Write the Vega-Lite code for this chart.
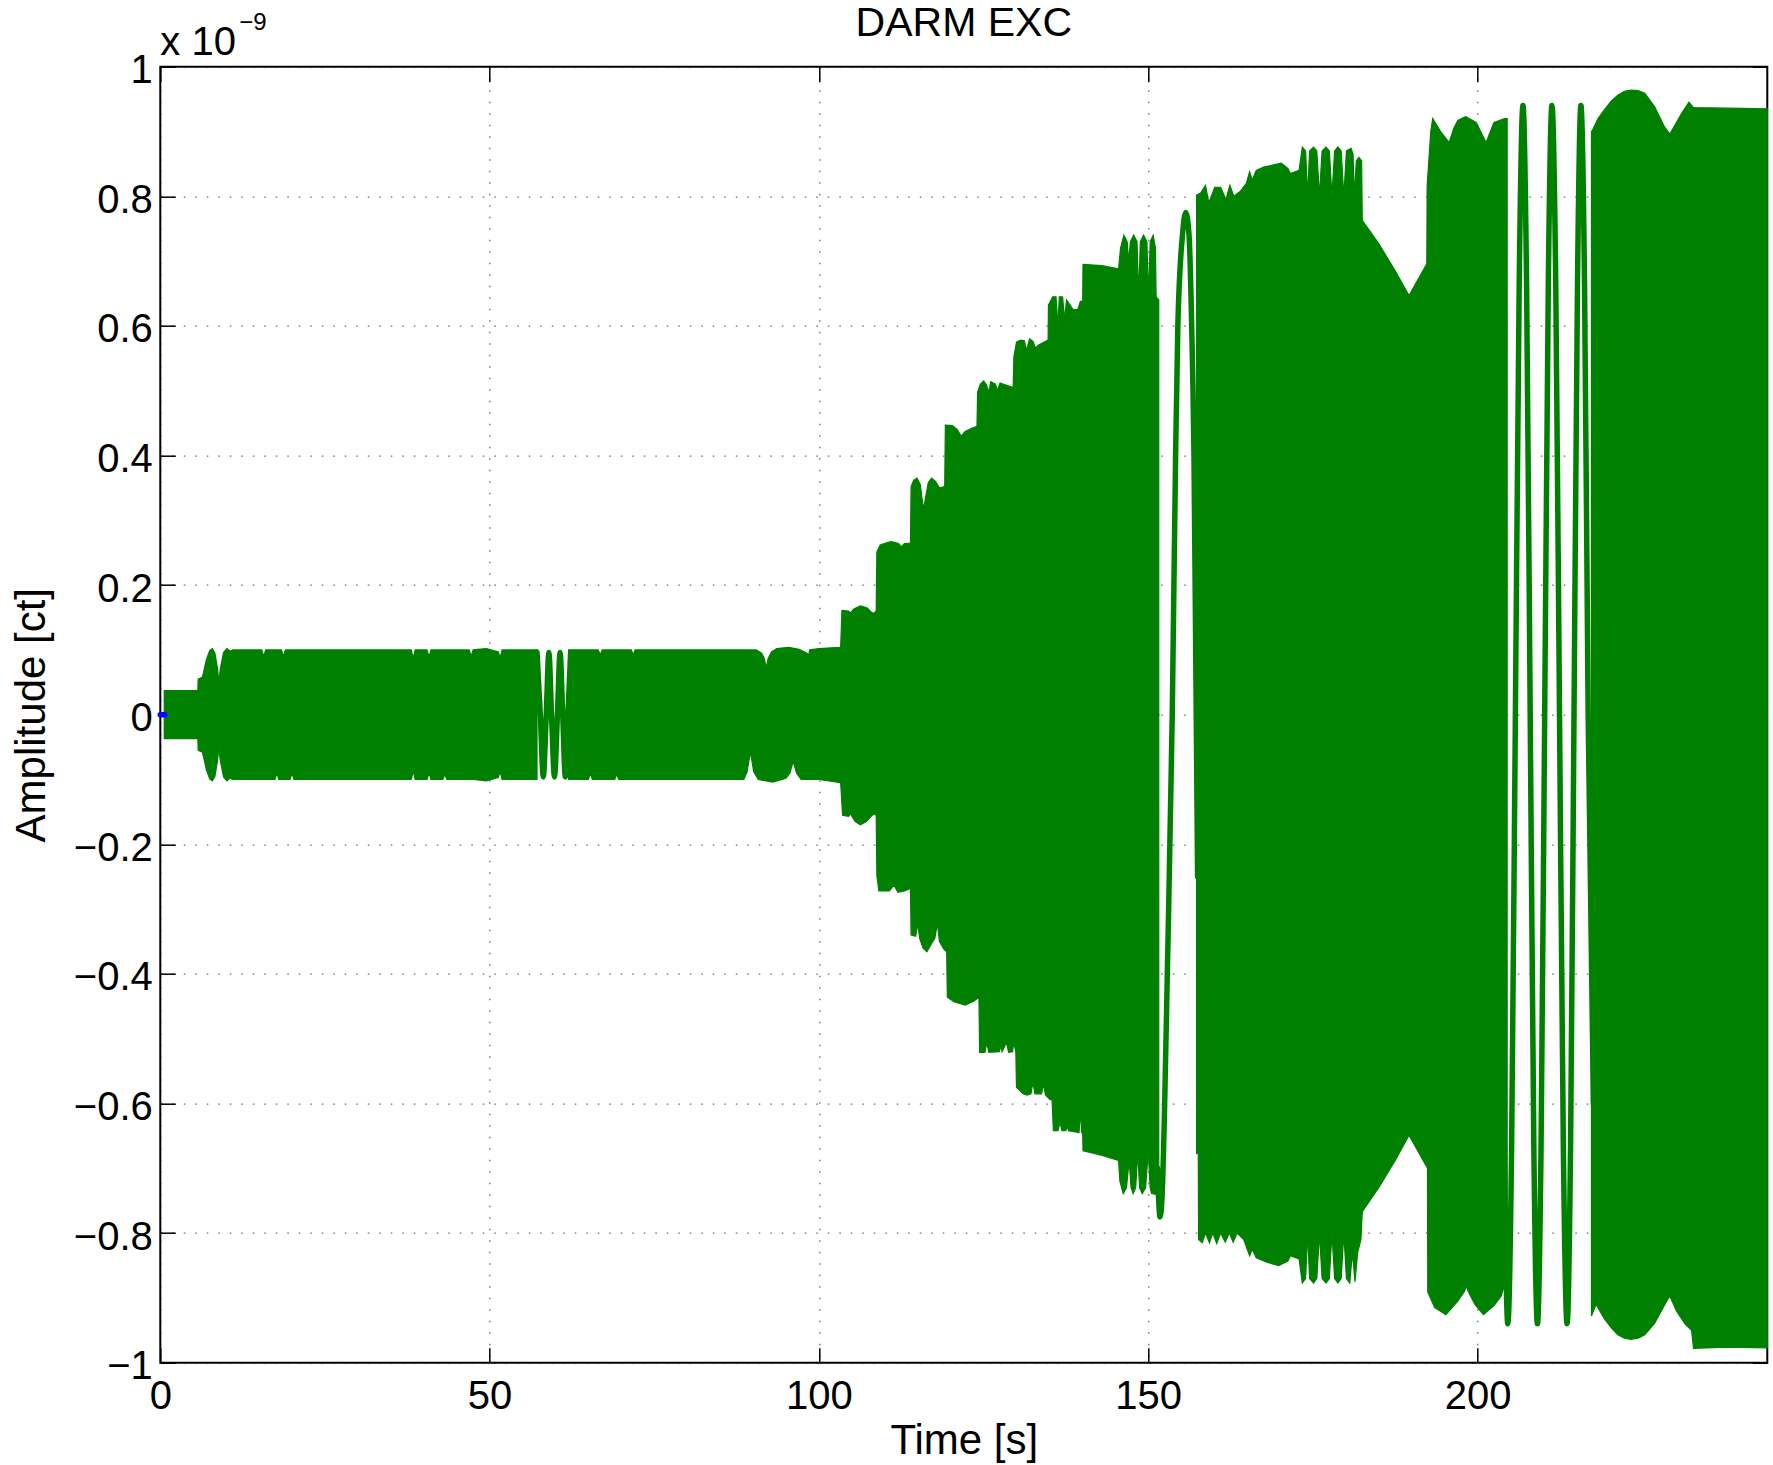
{
"$schema": "https://vega.github.io/schema/vega-lite/v6.json",
"autosize": {"type": "none"},
"width": 1607, "height": 1296,
"padding": {"left": 160.3, "top": 66.7, "right": 5.7, "bottom": 102.3},
"background": "white",
"config": {"view": {"stroke": "#000", "strokeWidth": 2}, "font": "Liberation Sans"},
"datasets": {
"env": [
{"seg":"A","edge":"hi","t":0.6,"v":0.037},{"seg":"A","edge":"hi","t":5.7,"v":0.037},{"seg":"A","edge":"hi","t":5.75,"v":0.055},{"seg":"A","edge":"hi","t":6.4,"v":0.058},{"seg":"A","edge":"hi","t":7.0,"v":0.085},{"seg":"A","edge":"hi","t":7.5,"v":0.099},{"seg":"A","edge":"hi","t":7.9,"v":0.102},{"seg":"A","edge":"hi","t":8.3,"v":0.095},{"seg":"A","edge":"hi","t":8.7,"v":0.07},{"seg":"A","edge":"hi","t":8.9,"v":0.05},{"seg":"A","edge":"hi","t":9.1,"v":0.07},{"seg":"A","edge":"hi","t":9.6,"v":0.096},{"seg":"A","edge":"hi","t":10.1,"v":0.102},{"seg":"A","edge":"hi","t":10.6,"v":0.098},{"seg":"A","edge":"hi","t":11.0,"v":0.1},{"seg":"A","edge":"hi","t":15.4,"v":0.1},{"seg":"A","edge":"hi","t":15.7,"v":0.09},{"seg":"A","edge":"hi","t":16.0,"v":0.1},{"seg":"A","edge":"hi","t":18.4,"v":0.1},{"seg":"A","edge":"hi","t":18.7,"v":0.09},{"seg":"A","edge":"hi","t":19.0,"v":0.1},{"seg":"A","edge":"hi","t":38.1,"v":0.1},{"seg":"A","edge":"hi","t":38.4,"v":0.087},{"seg":"A","edge":"hi","t":38.7,"v":0.1},{"seg":"A","edge":"hi","t":40.5,"v":0.1},{"seg":"A","edge":"hi","t":40.8,"v":0.089},{"seg":"A","edge":"hi","t":41.1,"v":0.1},{"seg":"A","edge":"hi","t":46.9,"v":0.1},{"seg":"A","edge":"hi","t":47.2,"v":0.09},{"seg":"A","edge":"hi","t":47.5,"v":0.1},{"seg":"A","edge":"hi","t":49.5,"v":0.102},{"seg":"A","edge":"hi","t":51.3,"v":0.097},{"seg":"A","edge":"hi","t":51.6,"v":0.088},{"seg":"A","edge":"hi","t":51.9,"v":0.1},{"seg":"A","edge":"hi","t":57.3,"v":0.1},
{"seg":"A","edge":"lo","t":0.6,"v":-0.037},{"seg":"A","edge":"lo","t":5.7,"v":-0.037},{"seg":"A","edge":"lo","t":5.75,"v":-0.055},{"seg":"A","edge":"lo","t":6.4,"v":-0.058},{"seg":"A","edge":"lo","t":7.0,"v":-0.085},{"seg":"A","edge":"lo","t":7.5,"v":-0.099},{"seg":"A","edge":"lo","t":7.9,"v":-0.102},{"seg":"A","edge":"lo","t":8.3,"v":-0.095},{"seg":"A","edge":"lo","t":8.7,"v":-0.07},{"seg":"A","edge":"lo","t":8.9,"v":-0.05},{"seg":"A","edge":"lo","t":9.1,"v":-0.07},{"seg":"A","edge":"lo","t":9.6,"v":-0.096},{"seg":"A","edge":"lo","t":10.1,"v":-0.102},{"seg":"A","edge":"lo","t":10.6,"v":-0.098},{"seg":"A","edge":"lo","t":11.0,"v":-0.1},{"seg":"A","edge":"lo","t":17.4,"v":-0.1},{"seg":"A","edge":"lo","t":17.7,"v":-0.09},{"seg":"A","edge":"lo","t":18.0,"v":-0.1},{"seg":"A","edge":"lo","t":19.7,"v":-0.1},{"seg":"A","edge":"lo","t":20.0,"v":-0.09},{"seg":"A","edge":"lo","t":20.3,"v":-0.1},{"seg":"A","edge":"lo","t":38.1,"v":-0.1},{"seg":"A","edge":"lo","t":38.4,"v":-0.087},{"seg":"A","edge":"lo","t":38.7,"v":-0.1},{"seg":"A","edge":"lo","t":40.5,"v":-0.1},{"seg":"A","edge":"lo","t":40.8,"v":-0.09},{"seg":"A","edge":"lo","t":41.1,"v":-0.1},{"seg":"A","edge":"lo","t":42.9,"v":-0.1},{"seg":"A","edge":"lo","t":43.2,"v":-0.092},{"seg":"A","edge":"lo","t":43.5,"v":-0.1},{"seg":"A","edge":"lo","t":47.5,"v":-0.1},{"seg":"A","edge":"lo","t":49.5,"v":-0.102},{"seg":"A","edge":"lo","t":51.3,"v":-0.097},{"seg":"A","edge":"lo","t":51.6,"v":-0.088},{"seg":"A","edge":"lo","t":51.9,"v":-0.1},{"seg":"A","edge":"lo","t":57.2,"v":-0.1},
{"seg":"B","edge":"hi","t":62.0,"v":0.1},{"seg":"B","edge":"hi","t":66.5,"v":0.1},{"seg":"B","edge":"hi","t":66.8,"v":0.092},{"seg":"B","edge":"hi","t":67.1,"v":0.1},{"seg":"B","edge":"hi","t":71.5,"v":0.1},{"seg":"B","edge":"hi","t":71.8,"v":0.093},{"seg":"B","edge":"hi","t":72.1,"v":0.1},{"seg":"B","edge":"hi","t":90.5,"v":0.1},{"seg":"B","edge":"hi","t":91.3,"v":0.095},{"seg":"B","edge":"hi","t":91.7,"v":0.087},{"seg":"B","edge":"hi","t":92.0,"v":0.072},{"seg":"B","edge":"hi","t":92.3,"v":0.087},{"seg":"B","edge":"hi","t":92.8,"v":0.097},{"seg":"B","edge":"hi","t":93.6,"v":0.102},{"seg":"B","edge":"hi","t":95.4,"v":0.104},{"seg":"B","edge":"hi","t":97.0,"v":0.101},{"seg":"B","edge":"hi","t":98.2,"v":0.095},{"seg":"B","edge":"hi","t":98.4,"v":0.09},{"seg":"B","edge":"hi","t":98.6,"v":0.1},{"seg":"B","edge":"hi","t":100.0,"v":0.102},{"seg":"B","edge":"hi","t":103.3,"v":0.104},{"seg":"B","edge":"hi","t":103.5,"v":0.161},{"seg":"B","edge":"hi","t":104.5,"v":0.16},{"seg":"B","edge":"hi","t":104.8,"v":0.157},{"seg":"B","edge":"hi","t":105.3,"v":0.163},{"seg":"B","edge":"hi","t":106.3,"v":0.168},{"seg":"B","edge":"hi","t":107.3,"v":0.165},{"seg":"B","edge":"hi","t":108.0,"v":0.158},{"seg":"B","edge":"hi","t":108.3,"v":0.156},{"seg":"B","edge":"hi","t":108.7,"v":0.16},{"seg":"B","edge":"hi","t":108.8,"v":0.251},{"seg":"B","edge":"hi","t":109.3,"v":0.262},{"seg":"B","edge":"hi","t":110.5,"v":0.266},{"seg":"B","edge":"hi","t":111.0,"v":0.267},{"seg":"B","edge":"hi","t":112.1,"v":0.264},{"seg":"B","edge":"hi","t":112.5,"v":0.259},{"seg":"B","edge":"hi","t":113.0,"v":0.264},{"seg":"B","edge":"hi","t":113.9,"v":0.265},{"seg":"B","edge":"hi","t":114.0,"v":0.352},{"seg":"B","edge":"hi","t":114.4,"v":0.362},{"seg":"B","edge":"hi","t":114.9,"v":0.365},{"seg":"B","edge":"hi","t":115.4,"v":0.355},{"seg":"B","edge":"hi","t":115.7,"v":0.33},{"seg":"B","edge":"hi","t":115.9,"v":0.318},{"seg":"B","edge":"hi","t":116.2,"v":0.335},{"seg":"B","edge":"hi","t":116.6,"v":0.358},{"seg":"B","edge":"hi","t":117.1,"v":0.365},{"seg":"B","edge":"hi","t":117.7,"v":0.36},{"seg":"B","edge":"hi","t":118.3,"v":0.35},{"seg":"B","edge":"hi","t":119.1,"v":0.352},{"seg":"B","edge":"hi","t":119.2,"v":0.447},{"seg":"B","edge":"hi","t":120.3,"v":0.446},{"seg":"B","edge":"hi","t":121.0,"v":0.44},{"seg":"B","edge":"hi","t":121.6,"v":0.43},{"seg":"B","edge":"hi","t":122.2,"v":0.437},{"seg":"B","edge":"hi","t":123.2,"v":0.442},{"seg":"B","edge":"hi","t":124.0,"v":0.445},{"seg":"B","edge":"hi","t":124.1,"v":0.498},{"seg":"B","edge":"hi","t":124.5,"v":0.51},{"seg":"B","edge":"hi","t":125.0,"v":0.515},{"seg":"B","edge":"hi","t":125.4,"v":0.51},{"seg":"B","edge":"hi","t":125.8,"v":0.498},{"seg":"B","edge":"hi","t":126.1,"v":0.514},{"seg":"B","edge":"hi","t":126.8,"v":0.51},{"seg":"B","edge":"hi","t":127.1,"v":0.5},{"seg":"B","edge":"hi","t":127.5,"v":0.512},{"seg":"B","edge":"hi","t":129.5,"v":0.505},{"seg":"B","edge":"hi","t":129.6,"v":0.552},{"seg":"B","edge":"hi","t":130.0,"v":0.575},{"seg":"B","edge":"hi","t":130.6,"v":0.578},{"seg":"B","edge":"hi","t":131.2,"v":0.577},{"seg":"B","edge":"hi","t":131.5,"v":0.562},{"seg":"B","edge":"hi","t":132.0,"v":0.58},{"seg":"B","edge":"hi","t":132.5,"v":0.576},{"seg":"B","edge":"hi","t":132.9,"v":0.566},{"seg":"B","edge":"hi","t":133.3,"v":0.57},{"seg":"B","edge":"hi","t":134.0,"v":0.574},{"seg":"B","edge":"hi","t":134.8,"v":0.578},{"seg":"B","edge":"hi","t":134.85,"v":0.632},{"seg":"B","edge":"hi","t":135.5,"v":0.645},{"seg":"B","edge":"hi","t":136.0,"v":0.645},{"seg":"B","edge":"hi","t":136.3,"v":0.6},{"seg":"B","edge":"hi","t":136.5,"v":0.645},{"seg":"B","edge":"hi","t":137.0,"v":0.645},{"seg":"B","edge":"hi","t":137.3,"v":0.61},{"seg":"B","edge":"hi","t":137.6,"v":0.64},{"seg":"B","edge":"hi","t":138.6,"v":0.625},{"seg":"B","edge":"hi","t":139.3,"v":0.625},{"seg":"B","edge":"hi","t":139.7,"v":0.638},{"seg":"B","edge":"hi","t":140.05,"v":0.638},{"seg":"B","edge":"hi","t":140.1,"v":0.695},{"seg":"B","edge":"hi","t":143.0,"v":0.693},{"seg":"B","edge":"hi","t":145.5,"v":0.688},{"seg":"B","edge":"hi","t":145.8,"v":0.72},{"seg":"B","edge":"hi","t":146.3,"v":0.74},{"seg":"B","edge":"hi","t":146.8,"v":0.73},{"seg":"B","edge":"hi","t":147.05,"v":0.7},{"seg":"B","edge":"hi","t":147.3,"v":0.73},{"seg":"B","edge":"hi","t":147.8,"v":0.74},{"seg":"B","edge":"hi","t":148.3,"v":0.73},{"seg":"B","edge":"hi","t":148.55,"v":0.645},{"seg":"B","edge":"hi","t":148.8,"v":0.73},{"seg":"B","edge":"hi","t":149.3,"v":0.74},{"seg":"B","edge":"hi","t":149.8,"v":0.73},{"seg":"B","edge":"hi","t":150.05,"v":0.645},{"seg":"B","edge":"hi","t":150.3,"v":0.73},{"seg":"B","edge":"hi","t":150.75,"v":0.74},{"seg":"B","edge":"hi","t":151.1,"v":0.72},{"seg":"B","edge":"hi","t":151.2,"v":0.645},{"seg":"B","edge":"hi","t":151.6,"v":0.64},
{"seg":"B","edge":"lo","t":62.0,"v":-0.1},{"seg":"B","edge":"lo","t":65.0,"v":-0.1},{"seg":"B","edge":"lo","t":65.3,"v":-0.09},{"seg":"B","edge":"lo","t":65.6,"v":-0.1},{"seg":"B","edge":"lo","t":69.0,"v":-0.1},{"seg":"B","edge":"lo","t":69.3,"v":-0.092},{"seg":"B","edge":"lo","t":69.6,"v":-0.1},{"seg":"B","edge":"lo","t":88.6,"v":-0.1},{"seg":"B","edge":"lo","t":89.1,"v":-0.088},{"seg":"B","edge":"lo","t":89.6,"v":-0.057},{"seg":"B","edge":"lo","t":90.1,"v":-0.088},{"seg":"B","edge":"lo","t":90.8,"v":-0.1},{"seg":"B","edge":"lo","t":93.0,"v":-0.104},{"seg":"B","edge":"lo","t":95.0,"v":-0.098},{"seg":"B","edge":"lo","t":95.6,"v":-0.09},{"seg":"B","edge":"lo","t":96.1,"v":-0.072},{"seg":"B","edge":"lo","t":96.6,"v":-0.09},{"seg":"B","edge":"lo","t":97.3,"v":-0.1},{"seg":"B","edge":"lo","t":100.0,"v":-0.1},{"seg":"B","edge":"lo","t":103.3,"v":-0.105},{"seg":"B","edge":"lo","t":103.6,"v":-0.155},{"seg":"B","edge":"lo","t":104.5,"v":-0.157},{"seg":"B","edge":"lo","t":104.8,"v":-0.153},{"seg":"B","edge":"lo","t":105.5,"v":-0.165},{"seg":"B","edge":"lo","t":106.3,"v":-0.17},{"seg":"B","edge":"lo","t":107.2,"v":-0.165},{"seg":"B","edge":"lo","t":108.1,"v":-0.155},{"seg":"B","edge":"lo","t":108.5,"v":-0.153},{"seg":"B","edge":"lo","t":108.7,"v":-0.156},{"seg":"B","edge":"lo","t":108.8,"v":-0.248},{"seg":"B","edge":"lo","t":109.1,"v":-0.272},{"seg":"B","edge":"lo","t":110.7,"v":-0.272},{"seg":"B","edge":"lo","t":111.4,"v":-0.263},{"seg":"B","edge":"lo","t":112.0,"v":-0.274},{"seg":"B","edge":"lo","t":113.0,"v":-0.272},{"seg":"B","edge":"lo","t":113.9,"v":-0.268},{"seg":"B","edge":"lo","t":114.0,"v":-0.34},{"seg":"B","edge":"lo","t":114.7,"v":-0.342},{"seg":"B","edge":"lo","t":115.0,"v":-0.322},{"seg":"B","edge":"lo","t":115.3,"v":-0.345},{"seg":"B","edge":"lo","t":115.8,"v":-0.36},{"seg":"B","edge":"lo","t":116.4,"v":-0.366},{"seg":"B","edge":"lo","t":117.0,"v":-0.355},{"seg":"B","edge":"lo","t":117.6,"v":-0.345},{"seg":"B","edge":"lo","t":118.0,"v":-0.322},{"seg":"B","edge":"lo","t":118.3,"v":-0.35},{"seg":"B","edge":"lo","t":119.0,"v":-0.362},{"seg":"B","edge":"lo","t":119.4,"v":-0.366},{"seg":"B","edge":"lo","t":119.5,"v":-0.436},{"seg":"B","edge":"lo","t":120.5,"v":-0.443},{"seg":"B","edge":"lo","t":122.2,"v":-0.448},{"seg":"B","edge":"lo","t":123.5,"v":-0.442},{"seg":"B","edge":"lo","t":124.3,"v":-0.436},{"seg":"B","edge":"lo","t":124.4,"v":-0.521},{"seg":"B","edge":"lo","t":125.2,"v":-0.521},{"seg":"B","edge":"lo","t":125.5,"v":-0.506},{"seg":"B","edge":"lo","t":125.8,"v":-0.521},{"seg":"B","edge":"lo","t":127.4,"v":-0.52},{"seg":"B","edge":"lo","t":127.6,"v":-0.51},{"seg":"B","edge":"lo","t":127.8,"v":-0.52},{"seg":"B","edge":"lo","t":128.5,"v":-0.506},{"seg":"B","edge":"lo","t":128.8,"v":-0.521},{"seg":"B","edge":"lo","t":129.4,"v":-0.52},{"seg":"B","edge":"lo","t":129.6,"v":-0.506},{"seg":"B","edge":"lo","t":129.9,"v":-0.52},{"seg":"B","edge":"lo","t":130.0,"v":-0.575},{"seg":"B","edge":"lo","t":131.0,"v":-0.585},{"seg":"B","edge":"lo","t":131.6,"v":-0.587},{"seg":"B","edge":"lo","t":132.2,"v":-0.585},{"seg":"B","edge":"lo","t":132.5,"v":-0.567},{"seg":"B","edge":"lo","t":132.8,"v":-0.585},{"seg":"B","edge":"lo","t":133.8,"v":-0.585},{"seg":"B","edge":"lo","t":134.1,"v":-0.57},{"seg":"B","edge":"lo","t":134.4,"v":-0.587},{"seg":"B","edge":"lo","t":135.1,"v":-0.594},{"seg":"B","edge":"lo","t":135.4,"v":-0.594},{"seg":"B","edge":"lo","t":135.6,"v":-0.642},{"seg":"B","edge":"lo","t":136.3,"v":-0.642},{"seg":"B","edge":"lo","t":136.6,"v":-0.629},{"seg":"B","edge":"lo","t":136.9,"v":-0.642},{"seg":"B","edge":"lo","t":137.5,"v":-0.642},{"seg":"B","edge":"lo","t":137.7,"v":-0.635},{"seg":"B","edge":"lo","t":137.9,"v":-0.642},{"seg":"B","edge":"lo","t":139.5,"v":-0.645},{"seg":"B","edge":"lo","t":139.7,"v":-0.61},{"seg":"B","edge":"lo","t":139.9,"v":-0.645},{"seg":"B","edge":"lo","t":140.05,"v":-0.645},{"seg":"B","edge":"lo","t":140.1,"v":-0.673},{"seg":"B","edge":"lo","t":143.0,"v":-0.68},{"seg":"B","edge":"lo","t":145.5,"v":-0.688},{"seg":"B","edge":"lo","t":145.7,"v":-0.72},{"seg":"B","edge":"lo","t":146.2,"v":-0.739},{"seg":"B","edge":"lo","t":146.7,"v":-0.73},{"seg":"B","edge":"lo","t":147.1,"v":-0.688},{"seg":"B","edge":"lo","t":147.4,"v":-0.73},{"seg":"B","edge":"lo","t":147.7,"v":-0.739},{"seg":"B","edge":"lo","t":148.1,"v":-0.73},{"seg":"B","edge":"lo","t":148.4,"v":-0.675},{"seg":"B","edge":"lo","t":148.7,"v":-0.73},{"seg":"B","edge":"lo","t":149.1,"v":-0.739},{"seg":"B","edge":"lo","t":149.6,"v":-0.73},{"seg":"B","edge":"lo","t":150.0,"v":-0.675},{"seg":"B","edge":"lo","t":150.3,"v":-0.73},{"seg":"B","edge":"lo","t":150.5,"v":-0.739},{"seg":"B","edge":"lo","t":151.0,"v":-0.74},{"seg":"B","edge":"lo","t":151.6,"v":-0.74},
{"seg":"C","edge":"hi","t":157.35,"v":0.802},{"seg":"C","edge":"hi","t":157.96,"v":0.805},{"seg":"C","edge":"hi","t":158.7,"v":0.817},{"seg":"C","edge":"hi","t":159.2,"v":0.79},{"seg":"C","edge":"hi","t":160.1,"v":0.814},{"seg":"C","edge":"hi","t":161.0,"v":0.814},{"seg":"C","edge":"hi","t":161.8,"v":0.795},{"seg":"C","edge":"hi","t":162.4,"v":0.817},{"seg":"C","edge":"hi","t":163.0,"v":0.8},{"seg":"C","edge":"hi","t":164.0,"v":0.808},{"seg":"C","edge":"hi","t":164.9,"v":0.82},{"seg":"C","edge":"hi","t":165.4,"v":0.838},{"seg":"C","edge":"hi","t":165.8,"v":0.825},{"seg":"C","edge":"hi","t":166.4,"v":0.84},{"seg":"C","edge":"hi","t":167.5,"v":0.845},{"seg":"C","edge":"hi","t":170.2,"v":0.851},{"seg":"C","edge":"hi","t":171.2,"v":0.843},{"seg":"C","edge":"hi","t":171.6,"v":0.835},{"seg":"C","edge":"hi","t":172.9,"v":0.84},{"seg":"C","edge":"hi","t":173.4,"v":0.876},{"seg":"C","edge":"hi","t":173.9,"v":0.87},{"seg":"C","edge":"hi","t":174.2,"v":0.8},{"seg":"C","edge":"hi","t":174.5,"v":0.87},{"seg":"C","edge":"hi","t":175.1,"v":0.876},{"seg":"C","edge":"hi","t":175.6,"v":0.87},{"seg":"C","edge":"hi","t":176.0,"v":0.8},{"seg":"C","edge":"hi","t":176.4,"v":0.87},{"seg":"C","edge":"hi","t":177.0,"v":0.876},{"seg":"C","edge":"hi","t":177.5,"v":0.87},{"seg":"C","edge":"hi","t":177.9,"v":0.8},{"seg":"C","edge":"hi","t":178.3,"v":0.87},{"seg":"C","edge":"hi","t":178.8,"v":0.876},{"seg":"C","edge":"hi","t":179.3,"v":0.87},{"seg":"C","edge":"hi","t":179.7,"v":0.8},{"seg":"C","edge":"hi","t":180.1,"v":0.87},{"seg":"C","edge":"hi","t":180.8,"v":0.874},{"seg":"C","edge":"hi","t":181.1,"v":0.865},{"seg":"C","edge":"hi","t":181.3,"v":0.8},{"seg":"C","edge":"hi","t":181.6,"v":0.855},{"seg":"C","edge":"hi","t":182.0,"v":0.86},{"seg":"C","edge":"hi","t":182.4,"v":0.855},{"seg":"C","edge":"hi","t":182.5,"v":0.763},{"seg":"C","edge":"hi","t":185.0,"v":0.727},{"seg":"C","edge":"hi","t":187.5,"v":0.685},{"seg":"C","edge":"hi","t":189.6,"v":0.647},{"seg":"C","edge":"hi","t":192.3,"v":0.696},{"seg":"C","edge":"hi","t":192.35,"v":0.816},{"seg":"C","edge":"hi","t":192.9,"v":0.9},{"seg":"C","edge":"hi","t":193.2,"v":0.92},{"seg":"C","edge":"hi","t":193.8,"v":0.91},{"seg":"C","edge":"hi","t":194.4,"v":0.9},{"seg":"C","edge":"hi","t":195.7,"v":0.883},{"seg":"C","edge":"hi","t":196.4,"v":0.905},{"seg":"C","edge":"hi","t":197.0,"v":0.917},{"seg":"C","edge":"hi","t":198.2,"v":0.923},{"seg":"C","edge":"hi","t":199.8,"v":0.914},{"seg":"C","edge":"hi","t":201.3,"v":0.883},{"seg":"C","edge":"hi","t":202.5,"v":0.914},{"seg":"C","edge":"hi","t":204.1,"v":0.92},{"seg":"C","edge":"hi","t":204.5,"v":0.92},
{"seg":"C","edge":"lo","t":157.35,"v":-0.677},{"seg":"C","edge":"lo","t":157.6,"v":-0.677},{"seg":"C","edge":"lo","t":157.65,"v":-0.81},{"seg":"C","edge":"lo","t":158.2,"v":-0.815},{"seg":"C","edge":"lo","t":158.7,"v":-0.8},{"seg":"C","edge":"lo","t":159.3,"v":-0.815},{"seg":"C","edge":"lo","t":159.8,"v":-0.8},{"seg":"C","edge":"lo","t":160.4,"v":-0.816},{"seg":"C","edge":"lo","t":161.0,"v":-0.8},{"seg":"C","edge":"lo","t":161.7,"v":-0.814},{"seg":"C","edge":"lo","t":162.3,"v":-0.8},{"seg":"C","edge":"lo","t":162.9,"v":-0.814},{"seg":"C","edge":"lo","t":163.5,"v":-0.8},{"seg":"C","edge":"lo","t":164.5,"v":-0.81},{"seg":"C","edge":"lo","t":165.4,"v":-0.835},{"seg":"C","edge":"lo","t":165.8,"v":-0.825},{"seg":"C","edge":"lo","t":166.4,"v":-0.838},{"seg":"C","edge":"lo","t":168.0,"v":-0.845},{"seg":"C","edge":"lo","t":169.8,"v":-0.85},{"seg":"C","edge":"lo","t":171.2,"v":-0.843},{"seg":"C","edge":"lo","t":171.6,"v":-0.835},{"seg":"C","edge":"lo","t":172.9,"v":-0.84},{"seg":"C","edge":"lo","t":173.4,"v":-0.877},{"seg":"C","edge":"lo","t":173.9,"v":-0.87},{"seg":"C","edge":"lo","t":174.2,"v":-0.8},{"seg":"C","edge":"lo","t":174.5,"v":-0.87},{"seg":"C","edge":"lo","t":175.1,"v":-0.877},{"seg":"C","edge":"lo","t":175.6,"v":-0.87},{"seg":"C","edge":"lo","t":176.0,"v":-0.8},{"seg":"C","edge":"lo","t":176.4,"v":-0.87},{"seg":"C","edge":"lo","t":177.0,"v":-0.877},{"seg":"C","edge":"lo","t":177.5,"v":-0.87},{"seg":"C","edge":"lo","t":177.9,"v":-0.8},{"seg":"C","edge":"lo","t":178.3,"v":-0.87},{"seg":"C","edge":"lo","t":178.8,"v":-0.877},{"seg":"C","edge":"lo","t":179.3,"v":-0.87},{"seg":"C","edge":"lo","t":179.7,"v":-0.8},{"seg":"C","edge":"lo","t":180.1,"v":-0.87},{"seg":"C","edge":"lo","t":180.6,"v":-0.877},{"seg":"C","edge":"lo","t":180.9,"v":-0.842},{"seg":"C","edge":"lo","t":181.1,"v":-0.84},{"seg":"C","edge":"lo","t":181.4,"v":-0.875},{"seg":"C","edge":"lo","t":181.8,"v":-0.83},{"seg":"C","edge":"lo","t":182.3,"v":-0.81},{"seg":"C","edge":"lo","t":182.5,"v":-0.767},{"seg":"C","edge":"lo","t":185.0,"v":-0.73},{"seg":"C","edge":"lo","t":187.5,"v":-0.688},{"seg":"C","edge":"lo","t":189.6,"v":-0.649},{"seg":"C","edge":"lo","t":192.4,"v":-0.7},{"seg":"C","edge":"lo","t":192.45,"v":-0.891},{"seg":"C","edge":"lo","t":193.5,"v":-0.915},{"seg":"C","edge":"lo","t":195.2,"v":-0.926},{"seg":"C","edge":"lo","t":197.0,"v":-0.905},{"seg":"C","edge":"lo","t":198.0,"v":-0.89},{"seg":"C","edge":"lo","t":198.3,"v":-0.882},{"seg":"C","edge":"lo","t":198.6,"v":-0.89},{"seg":"C","edge":"lo","t":199.6,"v":-0.91},{"seg":"C","edge":"lo","t":200.9,"v":-0.926},{"seg":"C","edge":"lo","t":202.5,"v":-0.912},{"seg":"C","edge":"lo","t":203.6,"v":-0.897},{"seg":"C","edge":"lo","t":204.1,"v":-0.88},{"seg":"C","edge":"lo","t":204.5,"v":-0.8},
{"seg":"D","edge":"hi","t":217.3,"v":0.9},{"seg":"D","edge":"hi","t":217.45,"v":0.902},{"seg":"D","edge":"hi","t":218.3,"v":0.92},{"seg":"D","edge":"hi","t":219.3,"v":0.934},{"seg":"D","edge":"hi","t":220.3,"v":0.947},{"seg":"D","edge":"hi","t":221.3,"v":0.956},{"seg":"D","edge":"hi","t":222.3,"v":0.962},{"seg":"D","edge":"hi","t":223.3,"v":0.964},{"seg":"D","edge":"hi","t":224.4,"v":0.963},{"seg":"D","edge":"hi","t":225.4,"v":0.959},{"seg":"D","edge":"hi","t":226.9,"v":0.938},{"seg":"D","edge":"hi","t":228.4,"v":0.907},{"seg":"D","edge":"hi","t":229.2,"v":0.896},{"seg":"D","edge":"hi","t":229.7,"v":0.905},{"seg":"D","edge":"hi","t":231.0,"v":0.928},{"seg":"D","edge":"hi","t":232.1,"v":0.945},{"seg":"D","edge":"hi","t":232.8,"v":0.937},{"seg":"D","edge":"hi","t":238.0,"v":0.936},{"seg":"D","edge":"hi","t":244.0,"v":0.935},
{"seg":"D","edge":"lo","t":217.3,"v":-0.928},{"seg":"D","edge":"lo","t":218.0,"v":-0.91},{"seg":"D","edge":"lo","t":219.3,"v":-0.933},{"seg":"D","edge":"lo","t":220.3,"v":-0.946},{"seg":"D","edge":"lo","t":221.3,"v":-0.957},{"seg":"D","edge":"lo","t":222.3,"v":-0.962},{"seg":"D","edge":"lo","t":223.3,"v":-0.964},{"seg":"D","edge":"lo","t":224.4,"v":-0.962},{"seg":"D","edge":"lo","t":225.4,"v":-0.957},{"seg":"D","edge":"lo","t":226.9,"v":-0.939},{"seg":"D","edge":"lo","t":228.4,"v":-0.911},{"seg":"D","edge":"lo","t":229.2,"v":-0.897},{"seg":"D","edge":"lo","t":230.2,"v":-0.92},{"seg":"D","edge":"lo","t":231.5,"v":-0.94},{"seg":"D","edge":"lo","t":232.5,"v":-0.95},{"seg":"D","edge":"lo","t":232.8,"v":-0.978},{"seg":"D","edge":"lo","t":238.0,"v":-0.976},{"seg":"D","edge":"lo","t":244.0,"v":-0.977}
],
"lines": [
{"signal":"initial","seg":"L0","t":0.0,"v":0},{"signal":"initial","seg":"L0","t":0.7,"v":0},
{"signal":"excitation","seg":"L1","t":57.2,"v":0.096},{"signal":"excitation","seg":"L1","t":57.7,"v":0},{"signal":"excitation","seg":"L1","t":58.15,"v":-0.096},{"signal":"excitation","seg":"L1","t":58.6,"v":0},{"signal":"excitation","seg":"L1","t":59.0,"v":0.096},{"signal":"excitation","seg":"L1","t":59.4,"v":0},{"signal":"excitation","seg":"L1","t":59.85,"v":-0.096},{"signal":"excitation","seg":"L1","t":60.3,"v":0},{"signal":"excitation","seg":"L1","t":60.7,"v":0.096},{"signal":"excitation","seg":"L1","t":61.1,"v":0},{"signal":"excitation","seg":"L1","t":61.5,"v":-0.096},{"signal":"excitation","seg":"L1","t":61.9,"v":0},{"signal":"excitation","seg":"L1","t":62.3,"v":0.096},
{"signal":"excitation","seg":"L2","t":151.4,"v":-0.7},{"signal":"excitation","seg":"L2","t":151.8,"v":-0.775},{"signal":"excitation","seg":"L2","t":152.1,"v":-0.745},{"signal":"excitation","seg":"L2","t":152.5,"v":-0.6},{"signal":"excitation","seg":"L2","t":152.9,"v":-0.4},{"signal":"excitation","seg":"L2","t":153.65,"v":0},{"signal":"excitation","seg":"L2","t":154.16,"v":0.4},{"signal":"excitation","seg":"L2","t":154.5,"v":0.6},{"signal":"excitation","seg":"L2","t":155.2,"v":0.74},{"signal":"excitation","seg":"L2","t":155.7,"v":0.775},{"signal":"excitation","seg":"L2","t":156.2,"v":0.74},{"signal":"excitation","seg":"L2","t":156.6,"v":0.6},{"signal":"excitation","seg":"L2","t":156.95,"v":0.4},{"signal":"excitation","seg":"L2","t":157.25,"v":0.05},{"signal":"excitation","seg":"L2","t":157.5,"v":-0.25},
{"signal":"excitation","seg":"L3","t":204.0,"v":-0.62},{"signal":"excitation","seg":"L3","t":204.6,"v":-0.94},{"signal":"excitation","seg":"L3","t":205.18,"v":-0.665},{"signal":"excitation","seg":"L3","t":205.75,"v":0},{"signal":"excitation","seg":"L3","t":206.33,"v":0.665},{"signal":"excitation","seg":"L3","t":206.9,"v":0.94},{"signal":"excitation","seg":"L3","t":207.45,"v":0.665},{"signal":"excitation","seg":"L3","t":208.0,"v":0},{"signal":"excitation","seg":"L3","t":208.55,"v":-0.665},{"signal":"excitation","seg":"L3","t":209.1,"v":-0.94},{"signal":"excitation","seg":"L3","t":209.65,"v":-0.665},{"signal":"excitation","seg":"L3","t":210.2,"v":0},{"signal":"excitation","seg":"L3","t":210.75,"v":0.665},{"signal":"excitation","seg":"L3","t":211.3,"v":0.94},{"signal":"excitation","seg":"L3","t":211.88,"v":0.665},{"signal":"excitation","seg":"L3","t":212.45,"v":0},{"signal":"excitation","seg":"L3","t":213.03,"v":-0.665},{"signal":"excitation","seg":"L3","t":213.6,"v":-0.94},{"signal":"excitation","seg":"L3","t":214.13,"v":-0.665},{"signal":"excitation","seg":"L3","t":214.65,"v":0},{"signal":"excitation","seg":"L3","t":215.18,"v":0.665},{"signal":"excitation","seg":"L3","t":215.7,"v":0.94},{"signal":"excitation","seg":"L3","t":216.25,"v":0.665},{"signal":"excitation","seg":"L3","t":216.8,"v":0},{"signal":"excitation","seg":"L3","t":217.6,"v":-0.6}
]
},
"layer": [
{
 "data": {"name": "env"},
 "mark": {"type": "area", "color": "#008000", "stroke": "#008000", "strokeWidth": 1.2, "interpolate": "linear"},
 "encoding": {
  "x": {"field": "t", "type": "quantitative", "scale": {"domain": [0, 244.0], "nice": false, "zero": false},
   "axis": {"orient": "bottom", "values": [0, 50, 100, 150, 200], "ticks": false, "domain": false, "grid": true, "gridColor": "#000", "gridOpacity": 0.6, "gridWidth": 1.3, "gridDash": [1.5, 10],
    "labelFont": "Liberation Sans", "labelFontSize": 40, "labelColor": "#000", "labelPadding": 14, "labelFlush": false, "labelOverlap": false, "labelBound": false,
    "title": "Time [s]", "titleFont": "Liberation Sans", "titleFontSize": 42, "titleFontWeight": "normal", "titleColor": "#000", "titleX": 803.5, "titleY": 90.5, "titleBaseline": "alphabetic", "titleAlign": "center", "titleAngle": 0}},
  "y": {"field": "v", "type": "quantitative", "scale": {"domain": [-1, 1], "nice": false, "zero": false},
   "axis": {"orient": "left", "values": [-1, -0.8, -0.6, -0.4, -0.2, 0, 0.2, 0.4, 0.6, 0.8, 1], "ticks": false, "domain": false, "grid": true, "gridColor": "#000", "gridOpacity": 0.6, "gridWidth": 1.3, "gridDash": [1.5, 10],
    "labelExpr": "replace(format(datum.value, '~g'), '-', '\u2212')",
    "labelFont": "Liberation Sans", "labelFontSize": 40, "labelColor": "#000", "labelPadding": 8, "labelOffset": 4, "labelFlush": false, "labelOverlap": false, "labelBound": false,
    "title": "Amplitude [ct]", "titleFont": "Liberation Sans", "titleFontSize": 42, "titleFontWeight": "normal", "titleColor": "#000", "titleX": -116, "titleY": 648, "titleAngle": 270, "titleBaseline": "alphabetic", "titleAlign": "center"}},
  "y2": {"datum": 0},
  "detail": [{"field": "seg"}, {"field": "edge"}]
 }
},
{
 "data": {"name": "lines"},
 "mark": {"type": "line", "strokeWidth": 5.5, "interpolate": "monotone", "strokeCap": "round"},
 "encoding": {
  "x": {"field": "t", "type": "quantitative", "scale": {"domain": [0, 244.0], "nice": false, "zero": false},
   "axis": {"orient": "top", "values": [0, 50, 100, 150, 200], "ticks": true, "tickSize": -15, "tickColor": "#000", "tickWidth": 1.5, "labels": false, "domain": false, "grid": false, "title": null}},
  "y": {"field": "v", "type": "quantitative", "scale": {"domain": [-1, 1], "nice": false, "zero": false},
   "axis": {"orient": "right", "values": [-1, -0.8, -0.6, -0.4, -0.2, 0, 0.2, 0.4, 0.6, 0.8, 1], "ticks": true, "tickSize": -15, "tickColor": "#000", "tickWidth": 1.5, "labels": false, "domain": false, "grid": false, "title": null}},
  "color": {"field": "signal", "type": "nominal", "scale": {"domain": ["excitation", "initial"], "range": ["#008000", "#0000ff"]}, "legend": null},
  "detail": {"field": "seg"}
 }
},
{
 "data": {"values": [{"label": "x 10"}]},
 "mark": {"type": "text", "align": "left", "baseline": "alphabetic", "dy": -11.7, "fontSize": 40, "font": "Liberation Sans", "color": "#000"},
 "encoding": {
  "x": {"datum": 0, "type": "quantitative", "scale": {"domain": [0, 244.0], "nice": false, "zero": false},
   "axis": {"orient": "bottom", "values": [0, 50, 100, 150, 200], "ticks": true, "tickSize": -15, "tickColor": "#000", "tickWidth": 1.5, "labels": false, "domain": false, "grid": false, "title": null}},
  "y": {"datum": 1, "type": "quantitative", "scale": {"domain": [-1, 1], "nice": false, "zero": false},
   "axis": {"orient": "left", "values": [-1, -0.8, -0.6, -0.4, -0.2, 0, 0.2, 0.4, 0.6, 0.8, 1], "ticks": true, "tickSize": -15, "tickColor": "#000", "tickWidth": 1.5, "labels": false, "domain": false, "grid": false, "title": null}},
  "text": {"field": "label"}
 }
},
{
 "data": {"values": [{"label": "\u22129"}]},
 "mark": {"type": "text", "align": "left", "baseline": "alphabetic", "dx": 79, "dy": -37, "fontSize": 24, "font": "Liberation Sans", "color": "#000"},
 "encoding": {
  "x": {"datum": 0, "type": "quantitative", "scale": {"domain": [0, 244.0], "nice": false, "zero": false}, "axis": null},
  "y": {"datum": 1, "type": "quantitative", "scale": {"domain": [-1, 1], "nice": false, "zero": false}, "axis": null},
  "text": {"field": "label"}
 }
},
{
 "data": {"values": [{"label": "DARM EXC"}]},
 "mark": {"type": "text", "align": "center", "baseline": "alphabetic", "dy": -30.5, "fontSize": 41, "font": "Liberation Sans", "color": "#000"},
 "encoding": {
  "x": {"datum": 122.0, "type": "quantitative", "scale": {"domain": [0, 244.0], "nice": false, "zero": false}, "axis": null},
  "y": {"datum": 1, "type": "quantitative", "scale": {"domain": [-1, 1], "nice": false, "zero": false}, "axis": null},
  "text": {"field": "label"}
 }
}
],
"resolve": {"axis": {"x": "independent", "y": "independent"}}
}
